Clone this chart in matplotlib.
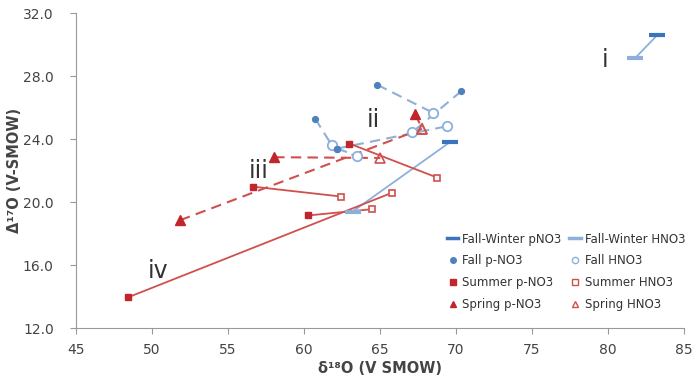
import matplotlib.pyplot as plt
from matplotlib.lines import Line2D

# Fall-Winter: particulate NO3 vs gaseous HNO3 (pairs)
fw_p_x = [83.27, 69.6]
fw_p_y = [30.62, 23.8]
fw_h_x = [81.8, 63.2]
fw_h_y = [29.15, 19.4]

# Fall
fall_p_x = [60.74, 62.19, 64.83, 70.36, 62.19]
fall_p_y = [25.3, 23.4, 27.45, 27.05, 23.4]
fall_h_x = [61.84, 69.42, 68.48, 67.11, 63.48]
fall_h_y = [23.6, 24.82, 25.68, 24.42, 22.95]

# Summer
sum_p_x = [62.98, 56.66, 60.28, 48.43]
sum_p_y = [23.72, 20.98, 19.15, 13.95]
sum_h_x = [68.78, 62.46, 64.5, 65.82]
sum_h_y = [21.55, 20.35, 19.55, 20.6]

# Spring
spr_p_x = [58.04, 51.85, 67.33]
spr_p_y = [22.85, 18.85, 25.6]
spr_h_x = [65.03, 67.77, 67.77]
spr_h_y = [22.8, 24.65, 24.65]

xticks = [45, 50, 55, 60, 65, 70, 75, 80, 85]
yticks = [12, 16, 20, 24, 28, 32]

dark_blue = '#3A74BE'
light_blue = '#8DB0DA'
mid_blue = '#4F81BD'
red = '#C0262B'
red_line = '#D0504D'

fig = plt.figure(figsize=(6.93, 3.83), dpi=100)
ax = fig.add_axes([0.1097, 0.1436, 0.877, 0.822])

# Fall-Winter lines and dash markers
for i in range(len(fw_p_x)):
    ax.plot([fw_h_x[i], fw_p_x[i]], [fw_h_y[i], fw_p_y[i]], color=light_blue, lw=1.3, zorder=2)
ax.plot(fw_h_x, fw_h_y, ls='none', marker='_', ms=12, mew=3, color=light_blue, zorder=4)
ax.plot(fw_p_x, fw_p_y, ls='none', marker='_', ms=12, mew=3, color=dark_blue, zorder=4)

# Fall
for i in range(len(fall_p_x)):
    ax.plot([fall_p_x[i], fall_h_x[i]], [fall_p_y[i], fall_h_y[i]], color=light_blue,
            lw=1.5, ls=(0, (5, 3)), zorder=2)
ax.plot(fall_p_x, fall_p_y, ls='none', marker='o', ms=4.2, color=mid_blue, zorder=4)
ax.plot(fall_h_x, fall_h_y, ls='none', marker='o', ms=6.8, mfc='white', mec=light_blue,
        mew=1.3, zorder=3)

# Summer
for i in range(len(sum_p_x)):
    ax.plot([sum_p_x[i], sum_h_x[i]], [sum_p_y[i], sum_h_y[i]], color=red_line, lw=1.3, zorder=2)
ax.plot(sum_p_x, sum_p_y, ls='none', marker='s', ms=5, color=red, zorder=4)
ax.plot(sum_h_x, sum_h_y, ls='none', marker='s', ms=5, mfc='white', mec=red_line,
        mew=1.2, zorder=3)

# Spring
for i in range(len(spr_p_x)):
    ax.plot([spr_p_x[i], spr_h_x[i]], [spr_p_y[i], spr_h_y[i]], color=red_line,
            lw=1.5, ls=(0, (5, 3)), zorder=2)
ax.plot(spr_p_x, spr_p_y, ls='none', marker='^', ms=6.5, color=red, zorder=4)
ax.plot(spr_h_x, spr_h_y, ls='none', marker='^', ms=6.5, mfc='none', mec=red_line,
        mew=1.2, zorder=3)

# annotations
ax.text(79.8, 29.0, 'i', fontsize=17, color='#333333', ha='center', va='center')
ax.text(64.6, 25.2, 'ii', fontsize=17, color='#333333', ha='center', va='center')
ax.text(57.0, 22.0, 'iii', fontsize=17, color='#333333', ha='center', va='center')
ax.text(50.4, 15.6, 'iv', fontsize=17, color='#333333', ha='center', va='center')

ax.set_xlim(45, 85)
ax.set_ylim(12, 32)
ax.set_xticks(xticks)
ax.set_yticks(yticks)
ax.set_yticklabels([f'{v:.1f}' for v in yticks])
ax.tick_params(labelsize=10, colors='#444444', length=4, color='#999999')
ax.tick_params(axis='y', pad=12)
ax.tick_params(axis='x', pad=7)
for s in ['top', 'right']:
    ax.spines[s].set_visible(False)
for s in ['left', 'bottom']:
    ax.spines[s].set_color('#999999')

ax.set_xlabel('δ¹⁸O (V SMOW)', fontsize=10.5, fontweight='bold', color='#444444', labelpad=3)
ax.set_ylabel('Δ¹⁷O (V-SMOW)', fontsize=10.5, fontweight='bold', color='#444444', labelpad=1)

handles = [
    Line2D([], [], color=dark_blue, lw=2.5),
    Line2D([], [], ls='none', marker='o', ms=4, color=mid_blue),
    Line2D([], [], ls='none', marker='s', ms=4, color=red),
    Line2D([], [], ls='none', marker='^', ms=4.5, color=red),
    Line2D([], [], color=light_blue, lw=2.5),
    Line2D([], [], ls='none', marker='o', ms=4.5, mfc='white', mec=light_blue),
    Line2D([], [], ls='none', marker='s', ms=4.5, mfc='white', mec=red_line),
    Line2D([], [], ls='none', marker='^', ms=5, mfc='white', mec=red_line),
]
labels = ['Fall-Winter pNO3', 'Fall p-NO3', 'Summer p-NO3', 'Spring p-NO3',
          'Fall-Winter HNO3', 'Fall HNO3', 'Summer HNO3', 'Spring HNO3']
leg = ax.legend(handles, labels, ncol=2, loc='lower right', bbox_to_anchor=(1.02, 0.02),
                frameon=False, fontsize=8.5, handlelength=1.0, handletextpad=0.3,
                columnspacing=0.7, labelspacing=0.75)
for t in leg.get_texts():
    t.set_color('#333333')

fig.savefig('out.png', dpi=100)
